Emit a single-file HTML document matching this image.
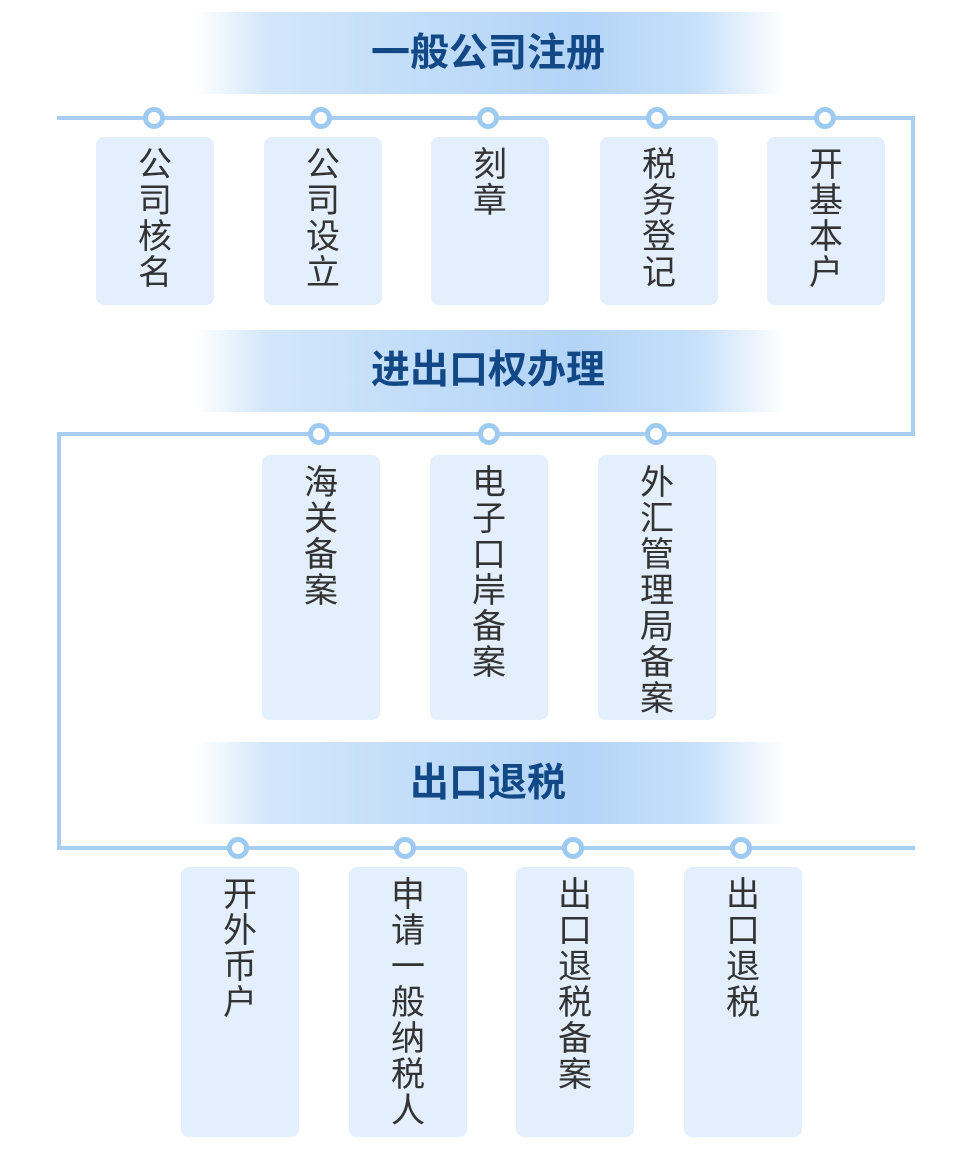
<!DOCTYPE html>
<html><head><meta charset="utf-8"><style>
body{margin:0;background:#fff;}
#c{position:relative;width:976px;height:1160px;overflow:hidden;background:#fff;font-family:"Liberation Sans","Noto Sans CJK SC",sans-serif;}
.ban{position:absolute;left:195px;width:590px;height:82px;background:linear-gradient(90deg,rgba(181,214,247,0) 0%,rgba(200,225,250,0.8) 12%,#c3def9 35%,#b3d4f6 65%,#c6e0fa 85%,rgba(200,225,250,0) 100%);}
.bt{position:absolute;left:0;width:976px;text-align:center;font-size:39px;font-weight:bold;color:#124886;line-height:44px;}
.ln{position:absolute;background:#a8cff2;}
.dot{position:absolute;width:12px;height:12px;border:5px solid #9ccaf1;border-radius:50%;background:#fff;margin:-11px 0 0 -11px;}
.box{position:absolute;width:118px;background:#e3effd;border-radius:8px;}
.tx{position:absolute;left:0;width:118px;top:10px;text-align:center;font-size:34px;line-height:36px;color:#333;}
</style></head><body><div id="c">
<div class="ban" style="top:12px"></div>
<div class="ban" style="top:330px"></div>
<div class="ban" style="top:742px"></div>
<div class="bt" style="top:32px">一般公司注册</div>
<div class="bt" style="top:349px">进出口权办理</div>
<div class="bt" style="top:762px">出口退税</div>

<div class="ln" style="left:57px;top:116px;width:858px;height:4px"></div>
<div class="ln" style="left:911px;top:116px;width:4px;height:320px"></div>
<div class="ln" style="left:57px;top:432px;width:858px;height:4px"></div>
<div class="ln" style="left:57px;top:432px;width:4px;height:418px"></div>
<div class="ln" style="left:57px;top:846px;width:858px;height:4px"></div>

<div class="dot" style="left:154px;top:118px"></div>
<div class="dot" style="left:321px;top:118px"></div>
<div class="dot" style="left:488px;top:118px"></div>
<div class="dot" style="left:657px;top:118px"></div>
<div class="dot" style="left:825px;top:118px"></div>
<div class="dot" style="left:319px;top:434px"></div>
<div class="dot" style="left:489px;top:434px"></div>
<div class="dot" style="left:656px;top:434px"></div>
<div class="dot" style="left:238px;top:848px"></div>
<div class="dot" style="left:405px;top:848px"></div>
<div class="dot" style="left:573px;top:848px"></div>
<div class="dot" style="left:741px;top:848px"></div>

<div class="box" style="left:96px;top:137px;height:168px"><div class="tx">公<br>司<br>核<br>名</div></div>
<div class="box" style="left:264px;top:137px;height:168px"><div class="tx">公<br>司<br>设<br>立</div></div>
<div class="box" style="left:431px;top:137px;height:168px"><div class="tx">刻<br>章</div></div>
<div class="box" style="left:600px;top:137px;height:168px"><div class="tx">税<br>务<br>登<br>记</div></div>
<div class="box" style="left:767px;top:137px;height:168px"><div class="tx">开<br>基<br>本<br>户</div></div>

<div class="box" style="left:262px;top:455px;height:265px"><div class="tx">海<br>关<br>备<br>案</div></div>
<div class="box" style="left:430px;top:455px;height:265px"><div class="tx">电<br>子<br>口<br>岸<br>备<br>案</div></div>
<div class="box" style="left:598px;top:455px;height:265px"><div class="tx">外<br>汇<br>管<br>理<br>局<br>备<br>案</div></div>

<div class="box" style="left:181px;top:867px;height:270px"><div class="tx">开<br>外<br>币<br>户</div></div>
<div class="box" style="left:349px;top:867px;height:270px"><div class="tx">申<br>请<br>一<br>般<br>纳<br>税<br>人</div></div>
<div class="box" style="left:516px;top:867px;height:270px"><div class="tx">出<br>口<br>退<br>税<br>备<br>案</div></div>
<div class="box" style="left:684px;top:867px;height:270px"><div class="tx">出<br>口<br>退<br>税</div></div>
</div></body></html>
